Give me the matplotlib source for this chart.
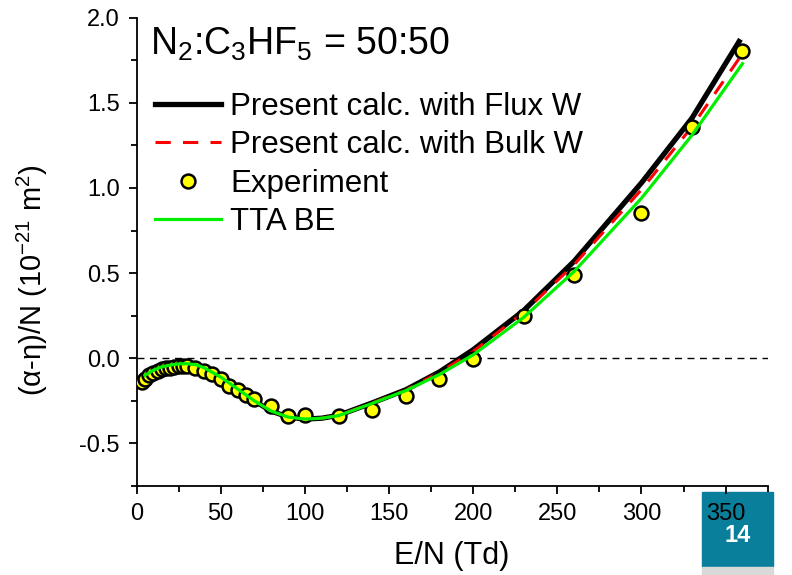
import numpy as np
import matplotlib
matplotlib.use("Agg")
import matplotlib.pyplot as plt
from matplotlib.lines import Line2D
from matplotlib.patches import Rectangle
from matplotlib.ticker import MultipleLocator

plt.rcParams['font.family'] = ['Liberation Sans', 'DejaVu Sans']
plt.rcParams['mathtext.fontset'] = 'custom'
plt.rcParams['mathtext.rm'] = 'Liberation Sans'
plt.rcParams['mathtext.it'] = 'Liberation Sans'
plt.rcParams['mathtext.default'] = 'regular'

# experiment
exp_x = [3, 5, 7.5, 10, 12.5, 15, 17.5, 20, 22.5, 25, 27.5, 30, 35, 40, 45,
         50, 55, 60, 65, 70, 80, 90, 100, 120, 140, 160, 180, 200, 230, 260,
         300, 330, 360]
exp_y = [-0.14, -0.12, -0.10, -0.085, -0.075, -0.065, -0.06, -0.055, -0.05,
         -0.048, -0.047, -0.048, -0.057, -0.076, -0.092, -0.121, -0.161,
         -0.186, -0.213, -0.239, -0.278, -0.337, -0.333, -0.337, -0.304,
         -0.224, -0.121, -0.004, 0.251, 0.487, 0.855, 1.359, 1.806]

# calculations
calc_x = [5, 10, 15, 20, 25, 30, 35, 40, 50, 60, 70, 80, 90, 100, 110, 120,
          140, 160, 180, 200, 230, 260, 300, 330, 358]
flux_w = [-0.10, -0.07, -0.05, -0.04, -0.033, -0.032, -0.037, -0.055, -0.11,
          -0.18, -0.25, -0.31, -0.345, -0.357, -0.352, -0.335, -0.262,
          -0.185, -0.08, 0.05, 0.28, 0.57, 1.03, 1.41, 1.86]
bulk_w = [-0.10, -0.07, -0.05, -0.04, -0.033, -0.032, -0.037, -0.055, -0.11,
          -0.18, -0.25, -0.31, -0.345, -0.357, -0.352, -0.336, -0.263,
          -0.186, -0.083, 0.04, 0.27, 0.55, 0.99, 1.36, 1.76]
tta_x = [5, 10, 15, 20, 25, 30, 35, 40, 50, 60, 70, 80, 90, 100, 110, 120,
         140, 160, 180, 200, 230, 260, 300, 330, 360]
tta_be = [-0.10, -0.07, -0.05, -0.04, -0.033, -0.032, -0.037, -0.055, -0.11,
          -0.18, -0.25, -0.31, -0.345, -0.357, -0.352, -0.337, -0.265,
          -0.19, -0.095, 0.02, 0.24, 0.51, 0.94, 1.31, 1.73]

fig = plt.figure(figsize=(7.92, 5.75), dpi=100)
ax = fig.add_axes([0.1724, 0.1548, 0.9693 - 0.1724, 0.9692 - 0.1548])

ax.axhline(0, color='black', lw=1.0, ls=(0, (5, 4)), zorder=1)

ax.plot(calc_x, flux_w, color='black', lw=3.8, zorder=2)
ax.plot(calc_x, bulk_w, color='red', lw=2.2, ls=(0, (5, 4)), zorder=3)
ax.plot(exp_x, exp_y, ls='none', marker='o', ms=10, mfc='#ffff00',
        mec='black', mew=1.8, zorder=4)
ax.plot(tta_x, tta_be, color='#00ee00', lw=2.3, zorder=5)

ax.set_xlim(0, 375)
ax.set_ylim(-0.75, 2.0)
ax.xaxis.set_major_locator(MultipleLocator(50))
ax.xaxis.set_minor_locator(MultipleLocator(25))
ax.yaxis.set_major_locator(MultipleLocator(0.5))
ax.yaxis.set_minor_locator(MultipleLocator(0.25))
ax.yaxis.set_major_formatter(matplotlib.ticker.FormatStrFormatter('%.1f'))
for s in ['top', 'right']:
    ax.spines[s].set_visible(False)
for s in ['left', 'bottom']:
    ax.spines[s].set_linewidth(1.3)
ax.tick_params(which='major', direction='out', length=6, width=1.3,
               labelsize=17, pad=6)
ax.tick_params(which='minor', direction='out', length=4, width=1.3)

ax.set_xlabel('E/N (Td)', fontsize=22, labelpad=12)
ax.set_ylabel('(α-η)/N (10$^{-21}$ m$^{2}$)', fontsize=21)
ax.yaxis.set_label_coords(-0.137, 0.44)

ax.text(0.022, 0.92, 'N$_2$:C$_3$HF$_5$ = 50:50', transform=ax.transAxes,
        fontsize=27, va='baseline', ha='left')

handles = [
    Line2D([], [], color='black', lw=3.8),
    Line2D([], [], color='red', lw=2.2, ls=(0, (5, 4))),
    Line2D([], [], ls='none', marker='o', ms=10, mfc='#ffff00', mec='black',
           mew=1.8),
    Line2D([], [], color='#00ee00', lw=2.3),
]
labels = ['Present calc. with Flux W', 'Present calc. with Bulk W',
          'Experiment', 'TTA BE']
ax.legend(handles, labels, loc='upper left', bbox_to_anchor=(0.0, 0.882),
          frameon=False, fontsize=22.5, handlelength=2.1, handletextpad=0.3,
          labelspacing=0.27, borderaxespad=0.2)

# slide page number box
fig.patches.append(Rectangle((702 / 792, 1 - 567 / 575), 71 / 792, 75 / 575,
                             transform=fig.transFigure, color='#0a7f9b',
                             zorder=-1))
fig.patches.append(Rectangle((702 / 792, 0), 71 / 792, 8 / 575,
                             transform=fig.transFigure, color='#d9d9d9',
                             zorder=-1))
fig.text(738 / 792, 1 - 536 / 575, '14', color='white', fontsize=17,
         fontweight='bold', ha='center', va='center')

fig.savefig('out.png', dpi=100)
